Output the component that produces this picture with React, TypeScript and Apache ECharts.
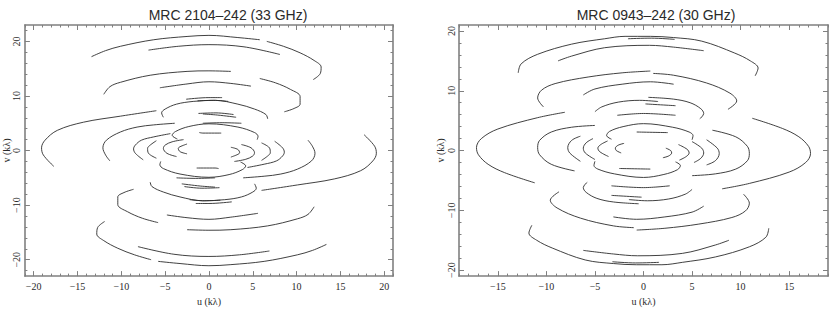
import React, { useEffect, useRef } from "react";
import * as echarts from "echarts";

// uv tracks, [u, v] in kλ. Every track is drawn together
// with its Hermitian conjugate at (-u, -v).
const leftTitle = "MRC 2104–242 (33 GHz)";
const rightTitle = "MRC 0943–242 (30 GHz)";

const leftUTicks = [-20, -15, -10, -5, 0, 5, 10, 15, 20];
const leftVTicks = [-20, -10, 0, 10, 20];
const rightUTicks = [-15, -10, -5, 0, 5, 10, 15];
const rightVTicks = [-20, -10, 0, 10, 20];

const leftTracks: number[][][] = [
  [[-13.4, 17.2], [-11.8, 18.3], [-10.1, 19.1], [-6.3, 20.3], [-2.5, 20.9], [0, 21.1], [3.3, 20.7], [5.8, 20.3]],
  [[6.6, 20.0], [8.5, 19.1], [10.4, 17.9], [12.0, 16.5], [12.8, 15.3], [12.7, 14.1], [11.9, 13.0]],
  [[-6.9, 18.4], [-3.5, 19.1], [0, 19.4], [4, 19.0], [8.1, 17.6]],
  [[-12.0, 10.3], [-11.3, 11.7], [-10.1, 12.5], [-6.7, 13.8], [-2.5, 14.5], [0, 14.6], [2.5, 14.5]],
  [[-5.6, 11.5], [-2.5, 12.2], [0, 12.6], [2.5, 12.3], [4.8, 11.8]],
  [[5.8, 13.2], [7.6, 12.4], [9.3, 11.2], [10.4, 9.9], [10.4, 8.5], [9.7, 7.7], [8.6, 7.1]],
  [[-2.6, 9.4], [0, 9.7], [1.5, 9.7]],
  [[-1.3, 9.1], [0.5, 9.2], [2.2, 9.0]],
  [[-5.2, 6.1], [-5.4, 6.9], [-5.0, 7.6], [-3.7, 8.5], [-1.8, 9.0], [0.7, 9.2], [3.3, 8.5], [5.2, 7.6], [6.5, 6.6], [6.7, 5.8]],
  [[-1.2, 6.8], [0.8, 6.9], [2.8, 6.6]],
  [[-5.5, -2.0], [-5.6, -2.6], [-5.2, -3.3], [-3.3, -4.3], [0, -4.9], [2.3, -4.4], [3.8, -3.5], [4.2, -2.8], [3.6, -2.1]],
  [[-1.4, -3.2], [0.7, -3.2], [1.1, -3.3]],
  [[-3.7, -5.0], [-1.5, -5.1], [0.7, -5.0]],
  [[-3.1, -6.1], [-1.0, -6.5], [0.7, -6.7]],
  [[-17.7, -2.9], [-18.9, -0.8], [-19.1, 0.5], [-18.7, 1.9], [-17.3, 3.7], [-14.3, 5.2], [-10.1, 6.3], [-6.0, 7.3]],
  [[-11.3, -1.9], [-11.8, -0.8], [-12.1, 0.5], [-11.7, 1.9], [-10.1, 3.4], [-8.2, 4.3], [-6.3, 4.7], [-3.9, 5.0]],
  [[-7.5, -1.7], [-8.4, -0.5], [-8.6, 0.3], [-8.4, 1.0], [-7.7, 1.9], [-6.3, 2.5], [-4.4, 3.1]],
  [[-6.0, -1.4], [-6.9, -0.5], [-7.0, 0.4], [-6.7, 1.0], [-6.0, 1.8]],
  [[-3.7, -1.1], [-4.8, -0.5], [-5.2, 0.4], [-5.0, 1.0], [-4.2, 1.6], [-2.9, 2.0]],
  [[-2.5, -0.6], [-3.3, -0.2], [-3.5, 0.4], [-3.3, 0.7], [-2.5, 1.2]],
];

const rightTracks: number[][][] = [
  [[-12.9, 13.0], [-12.6, 14.5], [-10.9, 16.1], [-7.4, 17.8], [-4.0, 18.7], [-1.9, 19.1], [0.7, 19.1], [3.1, 18.9], [6.0, 18.3], [9.4, 16.3], [11.0, 15.0], [11.8, 13.8], [11.5, 12.5]],
  [[-8.8, 15.0], [-7.4, 15.8], [-4.0, 17.2], [0.6, 17.6], [3.1, 17.3], [6.2, 16.7]],
  [[-1.6, 18.7], [0.8, 18.8], [3.2, 18.6]],
  [[-10.3, 7.3], [-10.9, 8.8], [-10.5, 10.1], [-9.1, 11.2], [-5.7, 12.3], [-2.2, 13.0], [0.7, 13.3]],
  [[1.0, 12.9], [3.1, 12.6], [6.5, 11.3], [8.9, 9.6], [9.6, 8.3], [8.7, 6.9]],
  [[-6.2, 9.3], [-5.0, 10.3], [-2.2, 11.1], [0.7, 11.5], [3.1, 11.1]],
  [[5.8, 5.3], [6.2, 6.2], [5.9, 7.0], [4.8, 8.0], [3.1, 8.6], [0.5, 8.9]],
  [[-5.0, 6.5], [-4.3, 7.3], [-2.6, 8.1], [-0.4, 8.4], [1.5, 8.2]],
  [[-5.0, -1.8], [-5.1, -2.5], [-4.7, -3.1], [-3.0, -3.9], [0, -4.5], [2.1, -4.0], [3.5, -3.2], [3.8, -2.5], [3.3, -1.9]],
  [[-2.5, -3.0], [0.7, -3.1]],
  [[-3.3, -5.9], [0, -6.2], [2.7, -5.9]],
  [[-3.3, -7.5], [-0.2, -7.8]],
  [[-11.2, -5.4], [-14.3, -3.7], [-16.0, -2.3], [-17.0, -0.7], [-17.2, 0.5], [-16.7, 2.0], [-15.0, 3.6], [-10.9, 5.5], [-8.1, 6.4]],
  [[-7.1, -3.4], [-9.5, -2.3], [-10.7, -0.7], [-10.9, 0.5], [-10.7, 1.7], [-9.5, 3.1], [-7.4, 3.9], [-5.0, 4.2]],
  [[-6.5, -1.8], [-7.6, -0.4], [-7.8, 0.5], [-7.4, 1.7], [-6.5, 2.4]],
  [[-5.0, -1.5], [-6.0, -0.4], [-6.2, 0.4], [-5.9, 1.3], [-5.2, 2.0]],
  [[-3.6, -1.0], [-4.5, -0.2], [-4.7, 0.4], [-4.4, 1.0], [-3.7, 1.6]],
  [[-2.3, -0.4], [-2.8, 0], [-2.9, 0.4], [-2.6, 0.9], [-2.0, 1.2]],
];

const leftURange = [-21, 21];
const leftVRange = [-23, 23];
const rightURange = [-19, 19];
const rightVRange = [-21, 21];

function range(a: number, b: number, step: number) {
  const out: number[] = [];
  for (let x = a; x <= b + 1e-9; x += step) out.push(Math.round(x * 100) / 100);
  return out;
}

const FRAME = "#808080";
const TEXT = "#2a2a2a";
const fmt = (v: number) => (v < 0 ? "\u2212" + Math.abs(v) : String(v));

function makeAxes(
  dim: "x" | "y",
  grid: number,
  rng: number[],
  major: number[],
  minorStep: number,
  name: string,
  nameGap: number
) {
  const minor = range(Math.ceil(rng[0] / minorStep) * minorStep, rng[1], minorStep);
  const posA = dim === "x" ? "bottom" : "left";
  const posB = dim === "x" ? "top" : "right";
  const base = { type: "value", gridIndex: grid, min: rng[0], max: rng[1], splitLine: { show: false } };
  const label = {
    show: true,
    customValues: major,
    formatter: fmt,
    fontFamily: "Liberation Serif",
    fontSize: 10,
    color: TEXT,
    margin: dim === "x" ? 5 : 3,
    rotate: dim === "y" ? 90 : 0,
  };
  return [
    {
      ...base,
      position: posA,
      axisLine: { show: true, onZero: false, lineStyle: { color: FRAME, width: 1.6 } },
      axisTick: { show: true, inside: true, length: 5, customValues: major, lineStyle: { color: FRAME, width: 1 } },
      axisLabel: label,
      name,
      nameLocation: "middle",
      nameGap,
      nameRotate: dim === "y" ? 90 : 0,
      nameTextStyle: { fontFamily: "Liberation Serif", fontSize: 10, color: TEXT },
    },
    {
      ...base,
      position: posA,
      axisLine: { show: false, onZero: false },
      axisTick: { show: true, inside: true, length: 2.5, customValues: minor, lineStyle: { color: FRAME, width: 1 } },
      axisLabel: { show: false },
    },
    {
      ...base,
      position: posB,
      axisLine: { show: true, onZero: false, lineStyle: { color: FRAME, width: 1.6 } },
      axisTick: { show: true, inside: true, length: 5, customValues: major, lineStyle: { color: FRAME, width: 1 } },
      axisLabel: { show: false },
    },
    {
      ...base,
      position: posB,
      axisLine: { show: false, onZero: false },
      axisTick: { show: true, inside: true, length: 2.5, customValues: minor, lineStyle: { color: FRAME, width: 1 } },
      axisLabel: { show: false },
    },
  ];
}

function trackSeries(tracks: number[][][], axisIndex: number) {
  const out: any[] = [];
  tracks.forEach((t) => {
    const conj = t.map(([u, v]) => [-u, -v]);
    [t, conj].forEach((d) => {
      out.push({
        type: "line",
        xAxisIndex: axisIndex,
        yAxisIndex: axisIndex,
        data: d,
        smooth: 0.35,
        showSymbol: false,
        symbol: "none",
        silent: true,
        lineStyle: { color: "#2b2b2b", width: 0.9 },
      });
    });
  });
  return out;
}

export default function App() {
  const ref = useRef<HTMLDivElement>(null);
  useEffect(() => {
    if (!ref.current) return;
    const chart = echarts.init(ref.current, undefined, { renderer: "svg" });
    const titleStyle = { fontFamily: "Liberation Sans", fontSize: 14, fontWeight: "normal", color: TEXT };
    const option: any = {
      animation: false,
      backgroundColor: "#ffffff",
      title: [
        { text: leftTitle, left: 223, top: 3, textAlign: "center", textStyle: titleStyle },
        { text: rightTitle, left: 651, top: 3, textAlign: "center", textStyle: titleStyle },
      ],
      grid: [
        { left: 24, top: 25, width: 369, height: 258 },
        { left: 459, top: 25, width: 369, height: 258 },
      ],
      xAxis: [
        ...makeAxes("x", 0, leftURange, leftUTicks, 1, "u (kλ)", 18),
        ...makeAxes("x", 1, rightURange, rightUTicks, 1, "u (kλ)", 18),
      ],
      yAxis: [
        ...makeAxes("y", 0, leftVRange, leftVTicks, 2, "v (kλ)", 13),
        ...makeAxes("y", 1, rightVRange, rightVTicks, 2, "v (kλ)", 14),
      ],
      series: [...trackSeries(leftTracks, 0), ...trackSeries(rightTracks, 4)],
    };
    chart.setOption(option);
    return () => chart.dispose();
  }, []);
  return (
    <div
      ref={ref}
      style={{ position: "fixed", left: 0, top: 0, width: 830, height: 311, background: "#fff" }}
    />
  );
}
